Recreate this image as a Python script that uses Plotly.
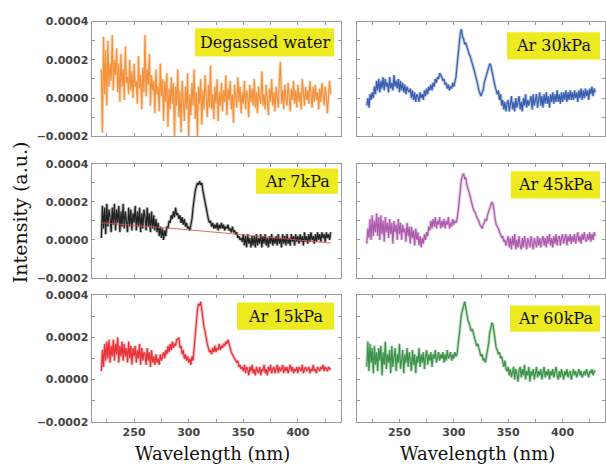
import plotly.graph_objects as go

W, H = 606, 471

# ---------------- data (intensity in units of 1e-6 a.u.) ----------------
wavelength_nm = list(range(220, 431))

degassed_water = [
    150, -180, 320, 20, 250, -40, 300, 60, 180, 90,
    330, 40, 200, 120, 260, 30, 180, -20, 230, 60,
    150, -10, 270, 80, 110, 20, 200, 40, 140, 0,
    180, 60, 90, -30, 220, 50, 120, -60, 160, 30,
    330, 10, 150, 70, 230, -40, 120, 40, 90, -80,
    150, 20, 60, -70, 180, 10, 100, -120, 90, -20,
    130, -150, 50, -60, 110, -30, 80, -200, 60, -40,
    150, -100, 40, -180, 90, 0, -120, 60, -60, 130,
    -200, 20, -90, 80, -40, 150, -110, 30, -200, 60,
    -30, 100, -140, 40, -60, 120, -20, -100, 70, -50,
    170, -60, 20, -110, 60, -30, 100, -120, 30, -40,
    80, -70, 40, -20, 120, -90, 50, -10, 90, -60,
    20, -130, 70, 0, -50, 110, -20, 60, -80, 30,
    -30, 90, -60, 40, 10, -100, 70, -20, 50, -40,
    100, -50, 30, -80, 60, 0, -30, 140, -40, 20,
    -60, 70, 10, -90, 50, -20, 100, -40, 30, -70,
    60, 10, -50, 90, 190, -30, 40, -60, 70, 0,
    -40, 80, 20, -70, 50, -10, 90, -30, 40, -50,
    70, -20, 30, -60, 100, 0, -40, 60, -10, 40,
    -30, 90, 10, -50, 60, -20, 70, -10, 30, -60,
    50, -20, 80, 0, -40, 60, 10, -80, 40, 90,
    20,
]

ar_30kpa = [
    -40, 0, -50, 20, -10, 30, 0, 60, 20, 90,
    40, 100, 30, 90, 50, 110, 40, 100, 60, 80,
    30, 110, 50, 80, 40, 120, 60, 90, 50, 100,
    30, 90, 40, 80, 30, 70, 20, 60, 40, 30,
    50, 0, 40, -10, 30, -20, 20, 10, -20, 30,
    0, 20, -10, 40, 10, 50, 20, 60, 40, 70,
    40, 80, 60, 100, 80, 110, 100, 130, 120, 110,
    90, 100, 70, 80, 50, 70, 40, 60, 50, 80,
    60, 90, 110, 170, 230, 300, 340, 360, 320, 310,
    280, 290, 260, 250, 230, 220, 200, 170, 160, 140,
    120, 90, 70, 40, 20, 10, 30, 40, 80, 100,
    120, 150, 160, 180, 170, 140, 110, 70, 60, 40,
    20, 40, -10, 20, -40, -10, -60, -20, -70, -30,
    -10, -70, -30, 10, -60, -20, -70, 0, -50, -20,
    10, -60, -20, -70, 0, -40, 20, -50, -10, -40,
    -20, 10, -60, 20, -40, -10, 20, -50, -10, 30,
    -40, 10, -50, 20, -30, 30, -30, 10, -50, 20,
    -20, 30, -30, 20, -20, 40, -20, 20, -30, 30,
    -20, 30, -10, 40, -20, 30, -10, 40, -10, 30,
    -10, 40, 0, 30, -20, 40, 0, 50, -10, 40,
    0, 50, 10, 40, -10, 50, 20, 60, 10, 50,
    30,
]

ar_7kpa = [
    10, 180, 60, 170, 30, 190, 70, 160, 120, 40,
    170, 80, 190, 50, 160, 90, 180, 40, 150, 70,
    190, 60, 150, 100, 40, 170, 70, 160, 50, 140,
    90, 180, 50, 150, 70, 170, 40, 140, 60, 160,
    120, 50, 170, 70, 140, 40, 150, 60, 130, 50,
    110, 40, 90, 20, 70, 10, 60, 0, 50, 20,
    70, 60, 100, 90, 130, 110, 150, 120, 170, 130,
    140, 110, 130, 90, 120, 80, 110, 70, 90, 60,
    70, 50, 80, 110, 170, 220, 260, 280, 300, 290,
    310, 290, 300, 260, 230, 190, 160, 120, 110, 90,
    100, 70, 90, 60, 80, 60, 90, 50, 80, 60,
    90, 60, 80, 50, 70, 60, 80, 50, 60, 40,
    70, 40, 50, 30, 40, 10, 20, 0, 10, -10,
    30, -30, 20, -40, 30, -20, 10, -40, 20, -30,
    20, -40, 30, -30, 10, -20, 30, -40, 20, -20,
    30, -30, 10, -40, 20, -20, 30, -30, 10, -20,
    20, -30, 30, -20, 10, -40, 30, -20, 20, -30,
    30, -20, 10, -30, 30, -10, 20, -30, 30, -10,
    20, -20, 30, -10, 20, -30, 40, -10, 20, -20,
    30, -10, 40, 0, 20, -20, 30, -10, 40, 0,
    30, -10, 40, 10, 30, -10, 40, 10, 30, 0,
    40,
]

baseline_7kpa_nm = [220, 260, 300, 340, 380, 430]
baseline_7kpa = [90, 72, 53, 32, 10, -17]

ar_45kpa = [
    -20, 60, 10, 110, 0, 130, 20, 100, 40, 140,
    20, 120, 0, 130, 30, 100, -10, 120, 40, 90,
    10, 110, 30, 90, -20, 100, 40, 80, 0, 110,
    30, 90, 0, 80, 40, 60, -10, 90, 20, 70,
    -20, 70, 10, 50, -30, 60, 0, 40, -30, 20,
    -40, 10, -20, 30, 0, 40, 20, 70, 50, 100,
    60, 110, 70, 120, 60, 100, 80, 120, 60, 100,
    70, 110, 60, 100, 80, 120, 60, 90, 70, 110,
    80, 100, 90, 110, 150, 210, 270, 320, 340, 350,
    320, 330, 290, 260, 250, 230, 200, 190, 160, 150,
    140, 120, 110, 100, 80, 70, 60, 80, 90, 110,
    100, 130, 150, 170, 180, 200, 190, 140, 110, 80,
    70, 60, 40, 30, 10, 20, -10, 0, -30, -10,
    20, -40, 10, -50, 20, -30, 30, -50, 0, -40,
    20, -30, -50, 10, -40, 20, -30, -50, 10, -20,
    -40, 20, -30, -50, 10, -20, -40, 20, -30, 10,
    -40, 0, 20, -30, 10, -40, 20, -20, 30, -30,
    10, -40, 20, -20, 30, -30, 10, 20, -30, 10,
    30, -20, 10, 30, -30, 20, -10, 30, -20, 20,
    -10, 30, -20, 20, 40, -10, 20, -20, 30, 0,
    40, 0, -10, 30, 0, 40, -10, 30, 0, 40,
    20,
]

ar_15kpa = [
    40, 140, 60, 170, 90, 180, 100, 190, 80, 160,
    110, 190, 90, 170, 120, 200, 80, 160, 110, 180,
    90, 170, 110, 150, 80, 180, 100, 160, 70, 150,
    110, 160, 80, 140, 100, 170, 70, 150, 90, 130,
    120, 70, 150, 90, 130, 60, 140, 80, 110, 70,
    120, 80, 100, 70, 120, 90, 110, 130, 100, 140,
    120, 160, 130, 170, 140, 180, 150, 170, 160, 190,
    190, 200, 150, 160, 120, 140, 100, 120, 90, 110,
    80, 100, 70, 110, 90, 150, 220, 300, 330, 360,
    350, 370, 320, 300, 250, 230, 190, 170, 150, 130,
    140, 120, 150, 130, 160, 130, 150, 140, 170, 140,
    160, 150, 170, 160, 180, 170, 190, 160, 150, 130,
    120, 110, 100, 90, 80, 90, 60, 70, 50, 60,
    40, 70, 30, 60, 50, 20, 60, 40, 70, 30,
    50, 20, 60, 40, 30, 60, 20, 50, 40, 70,
    30, 50, 20, 60, 40, 70, 30, 50, 60, 30,
    50, 70, 30, 60, 40, 50, 70, 30, 60, 40,
    60, 30, 50, 70, 40, 60, 30, 50, 40, 60,
    30, 60, 50, 40, 70, 30, 50, 60, 40, 50,
    60, 30, 50, 40, 70, 40, 50, 30, 60, 50,
    40, 60, 50, 70, 40, 60, 50, 40, 60, 50,
    55,
]

ar_60kpa = [
    60, 180, 40, 170, 80, 150, 30, 160, 70, 130,
    40, 150, 90, 160, 20, 130, 70, 180, 50, 120,
    80, 140, 30, 160, 60, 110, 150, 40, 120, 80,
    170, 50, 110, 140, 30, 120, 80, 150, 60, 130,
    90, 40, 140, 70, 120, 30, 110, 80, 150, 60,
    120, 80, 130, 50, 110, 140, 70, 120, 90, 130,
    60, 120, 100, 140, 80, 110, 130, 90, 120, 100,
    130, 80, 120, 90, 140, 100, 110, 130, 90, 120,
    100, 130, 110, 120, 160, 200, 260, 310, 340, 350,
    370, 330, 310, 280, 270, 250, 230, 240, 210, 200,
    180, 160, 170, 140, 130, 110, 120, 90, 100, 80,
    110, 130, 170, 220, 250, 270, 260, 220, 170, 150,
    140, 120, 130, 100, 110, 80, 60, 90, 50, 40,
    60, 20, 50, 10, 40, 60, 0, 50, 30, -10,
    40, 60, 10, 50, 20, 70, 0, 40, 20, 60,
    -10, 40, 20, 50, 0, 30, 60, 10, 40, 20,
    50, 0, 30, 60, 10, 40, 20, 50, 0, 40,
    20, 50, 10, 30, 60, 20, 0, 40, 10, 50,
    30, 0, 40, 20, 50, 10, 30, 40, 0, 30,
    50, 20, 40, 10, 30, 50, 20, 40, 10, 30,
    40, 20, 50, 30, 10, 40, 30, 50, 20, 40,
    35,
]

labels = ["Degassed water", "Ar 30kPa", "Ar 7kPa", "Ar 45kPa", "Ar 15kPa", "Ar 60kPa"]
x_tick_vals = [225, 250, 275, 300, 325, 350, 375, 400, 425]
x_tick_text = ["", "250", "", "300", "", "350", "", "400", ""]
y_tick_vals = [-0.0002, -0.0001, 0.0, 0.0001, 0.0002, 0.0003, 0.0004]
y_tick_text = ["\u22120.0002", "", "0.0000", "", "0.0002", "", "0.0004"]

UNIT = 1e-6

# ---------------- layout geometry (pixels) ----------------
def px_x(p):
    return p / W

def px_y(p):
    return 1 - p / H

cols = [(91.5, 340.5), (357, 605)]
rows = [(16, 134), (162.5, 279.5), (297.5, 427.5)]

panels = [
    # series, color, label, row, col, label box (x0, y0, x1, y1)
    (degassed_water, "#F28A2E", labels[0], 0, 0, (195, 23, 334, 52)),
    (ar_30kpa, "#2B54AA", labels[1], 0, 1, (507, 27, 600, 55)),
    (ar_7kpa, "#111111", labels[2], 1, 0, (256, 167, 338, 193)),
    (ar_45kpa, "#A850A8", labels[3], 1, 1, (511, 170, 600, 198)),
    (ar_15kpa, "#E8232B", labels[4], 2, 0, (237, 305, 334, 333)),
    (ar_60kpa, "#2E8C3C", labels[5], 2, 1, (510, 308, 600, 335)),
]

fig = go.Figure()
shapes = []
annotations = []
axis_line = "#9a9a9a"
tick_font = dict(family="DejaVu Sans", size=11, color="#444444", weight="bold")

for i, (series, color, label, r, c, box) in enumerate(panels, start=1):
    xa = "x" if i == 1 else f"x{i}"
    ya = "y" if i == 1 else f"y{i}"
    yvals = [v * UNIT for v in series]
    xvals = wavelength_nm[:len(series)]
    # soft halo + sharper core, to mimic the dense noisy spectra
    fig.add_trace(go.Scatter(
        x=xvals, y=yvals, mode="lines", line=dict(color=color, width=3.2),
        opacity=0.3, xaxis=xa, yaxis=ya, showlegend=False, hoverinfo="skip",
    ))
    fig.add_trace(go.Scatter(
        x=xvals, y=yvals, mode="lines", line=dict(color=color, width=1.2),
        opacity=0.9, xaxis=xa, yaxis=ya, showlegend=False, hoverinfo="skip",
    ))
    if label == "Ar 7kPa":
        fig.add_trace(go.Scatter(
            x=baseline_7kpa_nm, y=[v * UNIT for v in baseline_7kpa],
            mode="lines", line=dict(color="#D9534F", width=1), opacity=0.85,
            xaxis=xa, yaxis=ya, showlegend=False, hoverinfo="skip",
        ))
    xd = [px_x(cols[c][0]), px_x(cols[c][1])]
    yd = [px_y(rows[r][1]), px_y(rows[r][0])]
    xkey = "xaxis" if i == 1 else f"xaxis{i}"
    ykey = "yaxis" if i == 1 else f"yaxis{i}"
    fig.update_layout(**{
        xkey: dict(
            domain=xd, anchor=ya, range=[211, 439],
            tickmode="array", tickvals=x_tick_vals,
            ticktext=x_tick_text if r == 2 else [""] * len(x_tick_vals),
            ticks="inside", ticklen=3, tickcolor=axis_line,
            showline=True, linecolor=axis_line, linewidth=1, mirror="ticks",
            showgrid=False, zeroline=False, tickfont=tick_font,
        ),
        ykey: dict(
            domain=yd, anchor=xa, range=[-0.0002, 0.0004],
            tickmode="array", tickvals=y_tick_vals,
            ticktext=y_tick_text if c == 0 else [""] * len(y_tick_vals),
            ticks="inside", ticklen=3, tickcolor=axis_line,
            showline=True, linecolor=axis_line, linewidth=1, mirror="ticks",
            showgrid=False, zeroline=False, tickfont=tick_font,
        ),
    })
    x0, y0, x1, y1 = box
    shapes.append(dict(
        type="rect", xref="paper", yref="paper",
        x0=px_x(x0), x1=px_x(x1), y0=px_y(y1), y1=px_y(y0),
        fillcolor="#EDEB1F", line=dict(width=0), layer="above",
    ))
    annotations.append(dict(
        text=label, xref="paper", yref="paper",
        x=px_x((x0 + x1) / 2), y=px_y((y0 + y1) / 2),
        xanchor="center", yanchor="middle", showarrow=False,
        font=dict(family="DejaVu Serif", size=16, color="#111111"),
    ))

# axis titles
annotations.append(dict(
    text="Intensity (a.u.)", xref="paper", yref="paper",
    x=px_x(20), y=px_y(212), xanchor="center", yanchor="middle",
    textangle=-90, showarrow=False,
    font=dict(family="DejaVu Serif", size=19, color="#111111"),
))
for c in range(2):
    annotations.append(dict(
        text="Wavelength (nm)", xref="paper", yref="paper",
        x=px_x((cols[c][0] + cols[c][1]) / 2 - 4), y=px_y(460),
        xanchor="center", yanchor="middle", showarrow=False,
        font=dict(family="DejaVu Serif", size=18, color="#111111"),
    ))

fig.update_layout(
    width=W, height=H,
    margin=dict(l=0, r=0, t=0, b=0),
    paper_bgcolor="white", plot_bgcolor="white",
    shapes=shapes, annotations=annotations,
    showlegend=False,
)

fig.write_html("out.html", config={"displayModeBar": False})

# remove the browser's default body margin so the figure sits at (0, 0)
with open("out.html", "r", encoding="utf-8") as f:
    html = f.read()
html = html.replace("<head>", "<head><style>html,body{margin:0;padding:0;overflow:hidden;}</style>", 1)
with open("out.html", "w", encoding="utf-8") as f:
    f.write(html)
